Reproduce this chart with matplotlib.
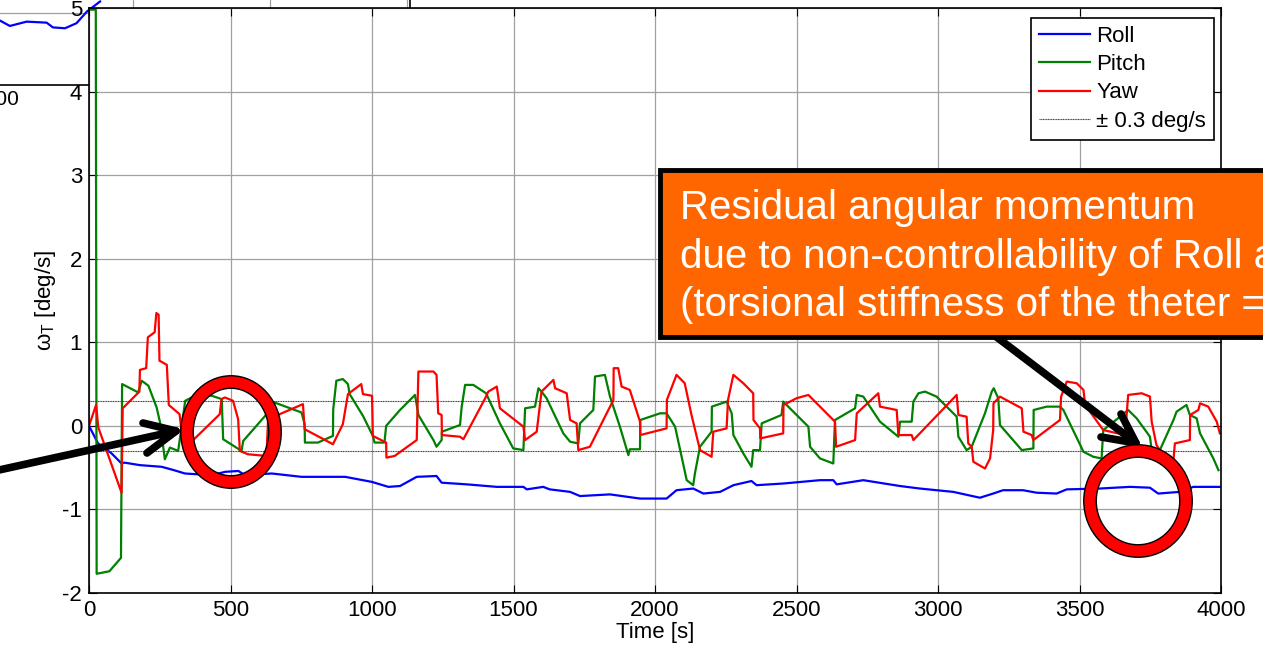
import matplotlib
matplotlib.use('Agg')
import matplotlib.pyplot as plt
from matplotlib.patches import Rectangle, Ellipse
from matplotlib.lines import Line2D

# ---------------- data ----------------
roll_t = [0, 32, 80, 115, 125, 180, 257, 300, 339, 434, 481, 528, 551, 646, 751, 905, 999, 1058,
          1099, 1158, 1228, 1246, 1335, 1441, 1535, 1547, 1605, 1628, 1700, 1735, 1841, 1947, 2041,
          2076, 2135, 2171, 2230, 2277, 2341, 2359, 2453, 2583, 2630, 2642, 2736, 2866, 2936, 3054,
          3148, 3195, 3230, 3300, 3349, 3419, 3455, 3572, 3678, 3749, 3778, 3855, 3902, 4000]
roll_w = [0, -0.21, -0.33, -0.45, -0.44, -0.47, -0.49, -0.53, -0.57, -0.59, -0.55, -0.54, -0.59,
          -0.57, -0.61, -0.61, -0.67, -0.73, -0.72, -0.61, -0.60, -0.68, -0.70, -0.73, -0.73, -0.76,
          -0.73, -0.76, -0.79, -0.84, -0.82, -0.87, -0.87, -0.77, -0.75, -0.81, -0.79, -0.71, -0.66,
          -0.71, -0.69, -0.65, -0.65, -0.70, -0.65, -0.72, -0.75, -0.79, -0.86, -0.81, -0.77, -0.77,
          -0.80, -0.81, -0.76, -0.75, -0.73, -0.74, -0.81, -0.79, -0.73, -0.73]

pitch_t = [0, 24, 27, 72, 113, 117, 174, 186, 210, 239, 251, 268, 286, 315, 340, 380, 434, 469,
           474, 539, 545, 633, 639, 751, 762, 763, 809, 862, 863, 874, 897, 915, 921, 968, 1003,
           1009, 1044, 1050, 1099, 1152, 1164, 1217, 1228, 1246, 1247, 1311, 1317, 1329, 1358,
           1403, 1452, 1499, 1535, 1541, 1576, 1588, 1599, 1617, 1676, 1700, 1729, 1735, 1782,
           1788, 1823, 1841, 1876, 1906, 1911, 1947, 1948, 2018, 2041, 2071, 2112, 2135, 2141,
           2159, 2200, 2201, 2253, 2271, 2277, 2312, 2341, 2347, 2371, 2377, 2447, 2453, 2542,
           2548, 2583, 2630, 2636, 2707, 2713, 2736, 2795, 2860, 2866, 2907, 2913, 2931, 2954,
           2995, 3066, 3072, 3101, 3119, 3166, 3190, 3197, 3213, 3219, 3296, 3337, 3338, 3384,
           3431, 3443, 3514, 3549, 3578, 3584, 3614, 3672, 3702, 3749, 3755, 3784, 3832, 3843,
           3878, 3890, 3914, 3926, 3973, 3991]
pitch_w = [4.98, 4.98, -1.77, -1.74, -1.58, 0.50, 0.40, 0.54, 0.48, 0.22, 0.04, -0.40, -0.26, -0.30,
           0.30, 0.37, 0.36, 0.32, -0.16, -0.30, -0.18, 0.16, 0.30, 0.16, 0.02, -0.20, -0.20,
           -0.12, 0.20, 0.54, 0.56, 0.50, 0.38, 0.12, -0.12, -0.20, -0.20, 0.00, 0.19, 0.37, 0.13,
           -0.17, -0.25, -0.17, -0.07, 0.01, 0.23, 0.49, 0.49, 0.39, 0.03, -0.27, -0.29, 0.21,
           0.23, 0.45, 0.41, 0.33, -0.09, -0.19, -0.21, 0.03, 0.19, 0.59, 0.61, 0.35, -0.01,
           -0.35, -0.28, -0.28, 0.07, 0.15, 0.15, -0.01, -0.65, -0.71, -0.57, -0.25, -0.07, 0.23,
           0.29, 0.15, -0.11, -0.33, -0.49, -0.29, -0.29, 0.03, 0.13, 0.29, -0.01, -0.25, -0.39,
           -0.45, 0.07, 0.21, 0.37, 0.35, 0.05, -0.13, 0.05, 0.05, 0.29, 0.39, 0.41, 0.35, 0.11,
           -0.13, -0.29, -0.25, 0.15, 0.41, 0.45, 0.33, 0.01, -0.29, -0.27, 0.19, 0.23, 0.23,
           0.19, -0.31, -0.37, -0.39, -0.05, 0.03, 0.19, 0.09, -0.13, -0.29, -0.29, 0.07, 0.17,
           0.25, 0.13, 0.09, -0.09, -0.39, -0.53]

yaw_t = [0, 25, 33, 115, 119, 178, 180, 202, 208, 232, 238, 246, 249, 275, 282, 320, 335, 462,
         468, 480, 509, 527, 533, 562, 627, 633, 756, 762, 862, 897, 915, 962, 968, 1000, 1003,
         1050, 1051, 1080, 1158, 1164, 1217, 1228, 1234, 1246, 1247, 1311, 1323, 1400, 1411,
         1441, 1452, 1535, 1541, 1582, 1599, 1641, 1647, 1688, 1700, 1723, 1729, 1770, 1853,
         1854, 1870, 1882, 1911, 1947, 1948, 2041, 2042, 2076, 2105, 2129, 2159, 2200, 2206,
         2253, 2258, 2277, 2312, 2347, 2348, 2371, 2372, 2453, 2454, 2500, 2542, 2636, 2640,
         2707, 2713, 2789, 2795, 2854, 2860, 2907, 2913, 3066, 3072, 3101, 3107, 3119, 3125,
         3166, 3184, 3195, 3196, 3219, 3296, 3302, 3331, 3337, 3431, 3435, 3455, 3490, 3514,
         3520, 3584, 3661, 3672, 3720, 3749, 3755, 3772, 3784, 3832, 3837, 3890, 3891, 3920,
         3926, 3955, 3985, 3996]
yaw_w = [0, 0.25, -0.02, -0.80, 0.21, 0.41, 0.67, 0.69, 1.06, 1.12, 1.35, 1.33, 0.78, 0.73,
         0.25, 0.14, -0.28, 0.14, 0.32, 0.34, 0.30, 0.08, -0.30, -0.34, -0.36, 0.08, 0.26, -0.04,
         -0.22, 0.02, 0.38, 0.50, 0.38, 0.36, -0.12, -0.20, -0.38, -0.36, -0.17, 0.65, 0.65,
         0.61, 0.15, 0.13, -0.11, -0.13, -0.16, 0.33, 0.41, 0.47, 0.21, -0.01, -0.17, -0.07,
         0.41, 0.55, 0.45, 0.39, 0.07, 0.03, -0.29, -0.25, 0.31, 0.69, 0.69, 0.47, 0.43, 0.05,
         -0.11, -0.03, 0.31, 0.61, 0.51, 0.13, -0.29, -0.37, -0.07, -0.03, 0.31, 0.61, 0.51,
         0.39, 0.07, -0.03, -0.15, -0.09, 0.25, 0.33, 0.37, 0.05, -0.25, -0.17, 0.15, 0.39, 0.23,
         0.19, -0.11, -0.11, -0.17, 0.37, 0.13, 0.11, -0.21, -0.25, -0.43, -0.51, -0.39, -0.05,
         0.27, 0.35, 0.21, -0.07, -0.11, -0.17, 0.07, 0.35, 0.53, 0.51, 0.43, 0.25, -0.05, -0.11,
         0.37, 0.39, 0.35, 0.05, -0.23, -0.29, -0.41, -0.21, -0.17, 0.13, 0.19, 0.27, 0.23, 0.05,
         -0.09]

threshold = 0.3
x_ticks = [0, 500, 1000, 1500, 2000, 2500, 3000, 3500, 4000]
y_ticks = [-2, -1, 0, 1, 2, 3, 4, 5]

# partially hidden inset plot in the top-left corner
inset_t = [1015, 1051, 1112, 1185, 1208, 1252, 1294, 1332, 1380]
inset_w = [-0.553, -0.59, -0.56, -0.567, -0.60, -0.606, -0.571, -0.49, -0.42]
inset_xticks = [1000, 1500, 2000, 2500]

box_lines = ["Residual angular momentum",
             "due to non-controllability of Roll and Yaw",
             "(torsional stiffness of the theter = 0)"]

# ---------------- styling ----------------
plt.rcParams['font.family'] = ['Liberation Sans', 'DejaVu Sans']
plt.rcParams['mathtext.fontset'] = 'custom'
plt.rcParams['mathtext.rm'] = 'Liberation Sans'
plt.rcParams['mathtext.it'] = 'Liberation Sans:italic'
plt.rcParams['axes.unicode_minus'] = False

W, H = 1263, 650
fig = plt.figure(figsize=(W / 100, H / 100), dpi=100)
fig.patch.set_facecolor('white')


def fx(px):
    return px / W


def fy(py):
    return 1 - py / H


GRID = '#a0a0a0'
FS = 16

# inset (mostly covered by the main axes)
ax_in = fig.add_axes([fx(-63), fy(85), fx(473), 144 / H], zorder=0)
ax_in.plot(inset_t, inset_w, color='#0000FF', lw=1.6)
ax_in.set_xlim(785, 2511)
ax_in.set_ylim(-1, 0)
ax_in.set_xticks(inset_xticks)
ax_in.set_yticks([-0.5])
ax_in.set_yticklabels([])
ax_in.grid(True, color=GRID, lw=0.9)
ax_in.tick_params(labelsize=15, direction='in', length=5)
for s in ax_in.spines.values():
    s.set_linewidth(1.2)

# main axes
ax = fig.add_axes([fx(89), fy(593), fx(1221 - 89), (593 - 8) / H], zorder=1)
ax.set_facecolor('white')
l1, = ax.plot(roll_t, roll_w, color='#0000FF', lw=1.6, label='Roll')
l2, = ax.plot(pitch_t, pitch_w, color='#008000', lw=1.6, label='Pitch')
l3, = ax.plot(yaw_t, yaw_w, color='#FF0000', lw=1.6, label='Yaw')
ax.axhline(threshold, color='#404040', lw=0.8, ls=(0, (1, 0.5)))
l4 = ax.axhline(-threshold, color='#404040', lw=0.8, ls=(0, (1, 0.5)), label='\u00b1 0.3 deg/s')

ax.set_xlim(0, 4000)
ax.set_ylim(-2, 5)
ax.set_xticks(x_ticks)
ax.set_yticks(y_ticks)
ax.grid(True, color=GRID, lw=0.9)
ax.set_axisbelow(True)
ax.tick_params(labelsize=FS, direction='in', length=6, top=True, right=True, pad=5)
for s in ax.spines.values():
    s.set_linewidth(1.2)
ax.set_xlabel('Time [s]', fontsize=FS, labelpad=1)
ax.set_ylabel(r'$\mathregular{\omega_T}$ [deg/s]', fontsize=FS, labelpad=3)

leg = ax.legend(handles=[l1, l2, l3, l4], loc='upper right',
                bbox_to_anchor=((1214 - 89) / 1132, (593 - 18) / 585),
                borderaxespad=0, fontsize=FS, fancybox=False, framealpha=1,
                edgecolor='black', handlelength=2.3, handletextpad=0.3,
                labelspacing=0.33, borderpad=0.35)
leg.get_frame().set_linewidth(1.2)

# ---------------- annotations (figure pixel positions) ----------------
def pts(*xy):
    return [fx(p) for p in xy[0::2]], [fy(p) for p in xy[1::2]]


def line(px, py, lw, color='black', z=5):
    ln = Line2D(px, py, transform=fig.transFigure, color=color, lw=lw,
                solid_capstyle='round', solid_joinstyle='round', zorder=z)
    fig.add_artist(ln)


def arrow(x0, y0, tx, ty, w1x, w1y, w2x, w2y, z=5):
    xs, ys = pts(x0, y0, tx, ty)
    line(xs, ys, 5.5, z=z)
    xs, ys = pts(w1x, w1y, tx, ty, w2x, w2y)
    line(xs, ys, 5.5, z=z)


def ring(cx, cy, rx, ry):
    for lw, col in ((10, 'black'), (8, '#FF0000')):
        e = Ellipse((fx(cx), fy(cy)), width=2 * rx / W, height=2 * ry / H,
                    transform=fig.transFigure, fill=False, edgecolor=col, lw=lw, zorder=6)
        fig.add_artist(e)


# right arrow (from the box to the right circle)
arrow(990, 332, 1136, 443, 1121, 414, 1101, 437, z=5)
# left arrow
arrow(-10, 472, 176, 431, 143, 423, 147, 453, z=5)

ring(231, 432, 44, 50)
ring(1138, 501, 48, 50)

box = Rectangle((fx(660), fy(337)), fx(700), (337 - 170) / H, transform=fig.transFigure,
                facecolor='#FF6600', edgecolor='black', lw=3.5, zorder=7)
fig.add_artist(box)
for i, txt in enumerate(box_lines):
    fig.text(fx(680), fy(208 + 48.5 * i), txt, color='white', fontsize=29,
             va='center', ha='left', zorder=8)

fig.savefig('out.png', dpi=100, facecolor='white')
